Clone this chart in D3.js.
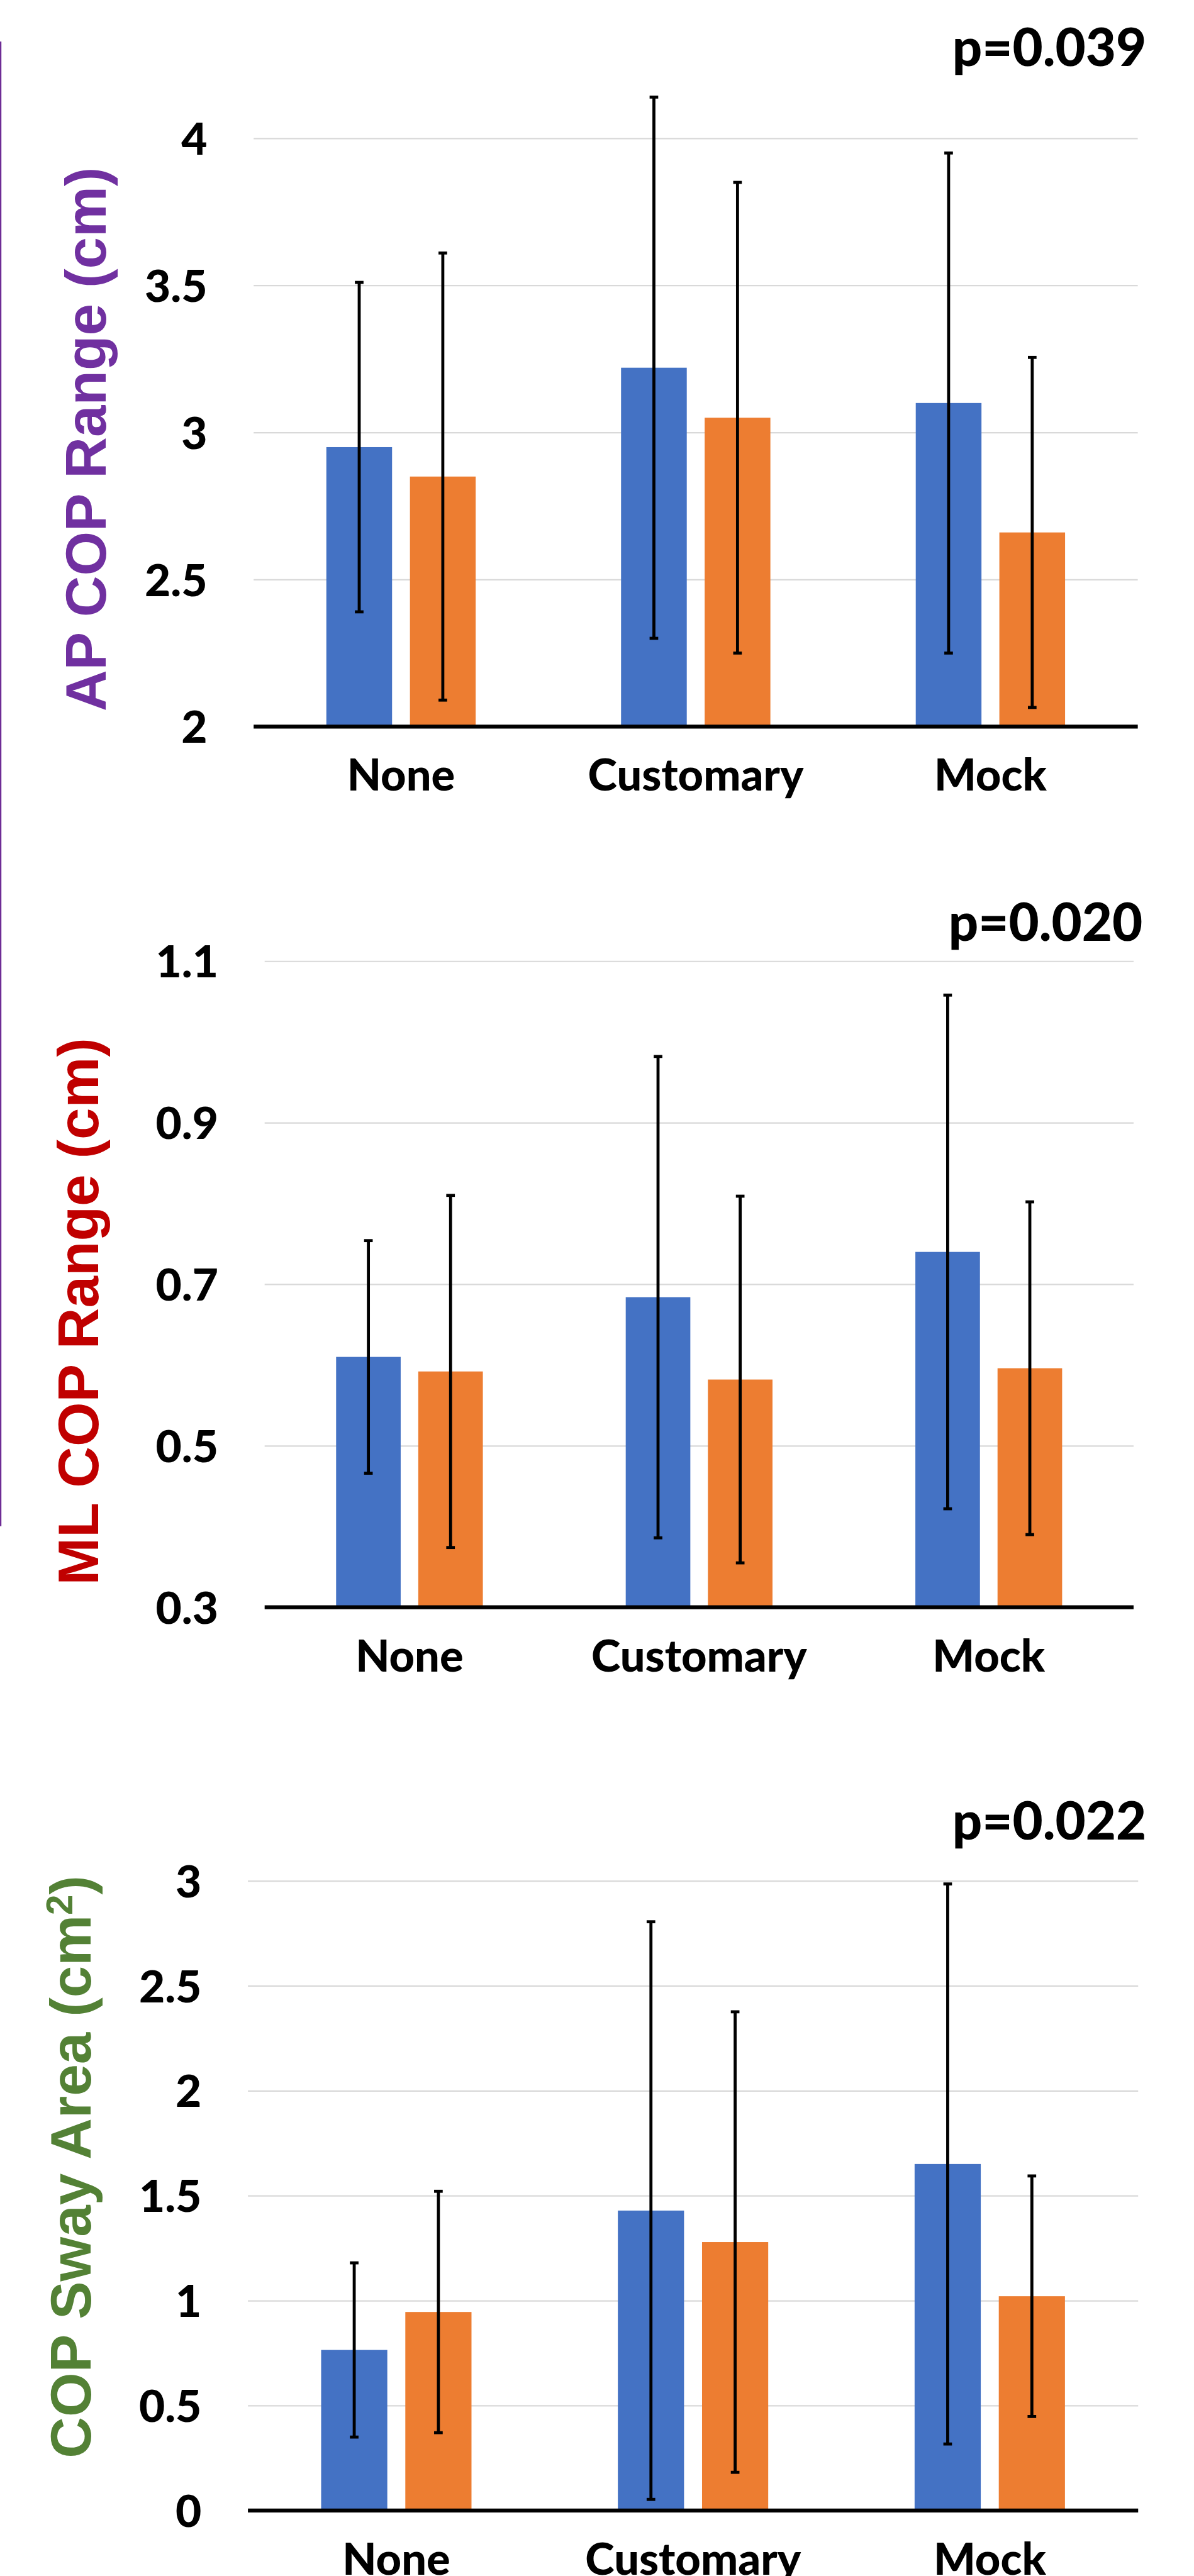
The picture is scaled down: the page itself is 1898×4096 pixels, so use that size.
<!DOCTYPE html>
<html>
<head>
<meta charset="utf-8">
<script src="https://cdn.jsdelivr.net/npm/d3@7"></script>
<style>
  html, body { margin: 0; padding: 0; background: #fff; overflow: hidden; }
  svg { display: block; }
</style>
</head>
<body>
<script>
// Categories shared by all three panels
const categories = ["None", "Customary", "Mock"];
const seriesKeys = ["A", "B"];
const seriesColors = { A: "#4472C4", B: "#ED7D31" };

// AP COP range (cm): means and standard deviations
const apMeanA = [2.95, 3.22, 3.10];
const apMeanB = [2.85, 3.05, 2.66];
const apErrA  = [0.56, 0.92, 0.85];
const apErrB  = [0.76, 0.80, 0.595];
const apTicks = [2, 2.5, 3, 3.5, 4];

// ML COP range (cm)
const mlMeanA = [0.610, 0.684, 0.740];
const mlMeanB = [0.592, 0.582, 0.596];
const mlErrA  = [0.144, 0.298, 0.318];
const mlErrB  = [0.218, 0.227, 0.206];
const mlTicks = [0.3, 0.5, 0.7, 0.9, 1.1];

// COP sway area (cm^2)
const swayMeanA = [0.765, 1.429, 1.651];
const swayMeanB = [0.946, 1.279, 1.021];
const swayErrA  = [0.415, 1.376, 1.334];
const swayErrB  = [0.575, 1.097, 0.573];
const swayTicks = [0, 0.5, 1, 1.5, 2, 2.5, 3];

const pLabels = ["p=0.039", "p=0.020", "p=0.022"];

// Drawing is laid out on a 2213 x 4777 grid and scaled to the window
const S = 0.8575;
const LABEL_FONT = "Lato, 'Open Sans', sans-serif";
const LABEL_WEIGHT = 900;
const TITLE_FONT = "'Liberation Sans', Arial, sans-serif";

const svg = d3.select("body").append("svg")
  .attr("width", 1898).attr("height", 4096);
const root = svg.append("g").attr("transform", `scale(${S})`);

// thin purple frame edge along the left margin
root.append("path")
  .attr("d", "M1.3,77V2830")
  .attr("fill", "none")
  .attr("stroke", "#6E2C95")
  .attr("stroke-width", 2.6);

const panels = [
  {
    meanA: apMeanA, meanB: apMeanB, errA: apErrA, errB: apErrB, ticks: apTicks,
    fmt: d3.format("~g"),
    left: 470.2, right: 2109.2, top: 256.4, bottom: 1347.3,
    title: [{ t: "AP COP Range (cm)" }], titleColor: "#7030A0",
    titleX: 196.3, titleY: 814.5,
    pText: pLabels[0], pX: 2125, pY: 122
  },
  {
    meanA: mlMeanA, meanB: mlMeanB, errA: mlErrA, errB: mlErrB, ticks: mlTicks,
    fmt: d3.format(".1f"),
    left: 490.6, right: 2101.4, top: 1782.3, bottom: 2980.4,
    title: [{ t: "ML COP Range (cm)" }], titleColor: "#C00000",
    titleX: 181.4, titleY: 2432,
    pText: pLabels[1], pX: 2118, pY: 1745
  },
  {
    meanA: swayMeanA, meanB: swayMeanB, errA: swayErrA, errB: swayErrB, ticks: swayTicks,
    fmt: d3.format("~g"),
    left: 459.6, right: 2109.9, top: 3487.6, bottom: 4655.3,
    title: [{ t: "COP Sway Area (cm" }, { t: "2", sup: true }, { t: ")" }], titleColor: "#538135",
    titleX: 168, titleY: 4018,
    pText: pLabels[2], pX: 2125, pY: 3411
  }
];

function drawPanel(p) {
  const g = root.append("g");

  const y = d3.scaleLinear()
    .domain([p.ticks[0], p.ticks[p.ticks.length - 1]])
    .range([p.bottom, p.top]);

  const x0 = d3.scaleBand()
    .domain(categories)
    .range([p.left, p.right])
    .paddingInner(0.4933)
    .paddingOuter(0.2467);

  const x1 = d3.scaleBand()
    .domain(seriesKeys)
    .range([0, x0.bandwidth()])
    .paddingInner(0.214);

  // value axis with horizontal gridlines
  const yAxis = d3.axisLeft(y)
    .tickValues(p.ticks)
    .tickSize(-(p.right - p.left))
    .tickPadding(86)
    .tickFormat(p.fmt);

  const gy = g.append("g")
    .attr("transform", `translate(${p.left},0)`)
    .call(yAxis);
  gy.select(".domain").remove();
  gy.selectAll(".tick line")
    .attr("stroke", "#D9D9D9")
    .attr("stroke-width", 2.6);
  gy.selectAll(".tick text")
    .attr("dy", "0.36em")
    .attr("fill", "#000")
    .style("font-family", LABEL_FONT)
    .style("font-weight", LABEL_WEIGHT)
    .style("font-size", "83px");

  const rows = categories.map((c, i) => ({
    cat: c,
    vals: [
      { k: "A", v: p.meanA[i], e: p.errA[i] },
      { k: "B", v: p.meanB[i], e: p.errB[i] }
    ]
  }));

  const base = y.domain()[0];

  // bars
  const groups = g.append("g").selectAll("g")
    .data(rows).join("g")
    .attr("transform", d => `translate(${x0(d.cat)},0)`);

  groups.selectAll("rect")
    .data(d => d.vals).join("rect")
    .attr("x", d => x1(d.k))
    .attr("width", x1.bandwidth())
    .attr("y", d => y(d.v))
    .attr("height", d => y(base) - y(d.v))
    .attr("fill", d => seriesColors[d.k]);

  // category axis line
  g.append("line")
    .attr("x1", p.left).attr("x2", p.right)
    .attr("y1", y(base)).attr("y2", y(base))
    .attr("stroke", "#000")
    .attr("stroke-width", 7.4);

  // error bars (mean ± SD)
  const cap = 8;
  const eb = groups.selectAll("g.err")
    .data(d => d.vals).join("g")
    .attr("class", "err")
    .attr("transform", d => `translate(${x1(d.k) + x1.bandwidth() / 2},0)`)
    .attr("stroke", "#000")
    .attr("stroke-width", 5.6);
  eb.append("line")
    .attr("x1", 0).attr("x2", 0)
    .attr("y1", d => y(d.v + d.e)).attr("y2", d => y(d.v - d.e));
  eb.append("line")
    .attr("x1", -cap).attr("x2", cap)
    .attr("y1", d => y(d.v + d.e)).attr("y2", d => y(d.v + d.e));
  eb.append("line")
    .attr("x1", -cap).attr("x2", cap)
    .attr("y1", d => y(d.v - d.e)).attr("y2", d => y(d.v - d.e));

  // category labels
  const gx = g.append("g")
    .attr("transform", `translate(0,${y(base)})`)
    .call(d3.axisBottom(x0).tickSize(0).tickPadding(0));
  gx.select(".domain").remove();
  gx.selectAll(".tick text")
    .attr("y", 119)
    .attr("dy", null)
    .attr("fill", "#000")
    .style("font-family", LABEL_FONT)
    .style("font-weight", LABEL_WEIGHT)
    .style("font-size", "82px");

  // vertical axis title
  const title = g.append("text")
    .attr("transform", `translate(${p.titleX},${p.titleY}) rotate(-90)`)
    .attr("text-anchor", "middle")
    .attr("fill", p.titleColor)
    .style("font-family", TITLE_FONT)
    .style("font-weight", 700)
    .style("font-size", "106px");
  let shifted = false;
  p.title.forEach(part => {
    const ts = title.append("tspan").text(part.t);
    if (part.sup) {
      ts.attr("dy", -34).style("font-size", "68px");
      shifted = true;
    } else if (shifted) {
      ts.attr("dy", 34);
      shifted = false;
    }
  });

  // significance label
  g.append("text")
    .attr("x", p.pX)
    .attr("y", p.pY)
    .attr("text-anchor", "end")
    .attr("fill", "#000")
    .style("font-family", LABEL_FONT)
    .style("font-weight", LABEL_WEIGHT)
    .style("font-size", "97px")
    .text(p.pText);
}

panels.forEach(drawPanel);
</script>
</body>
</html>
